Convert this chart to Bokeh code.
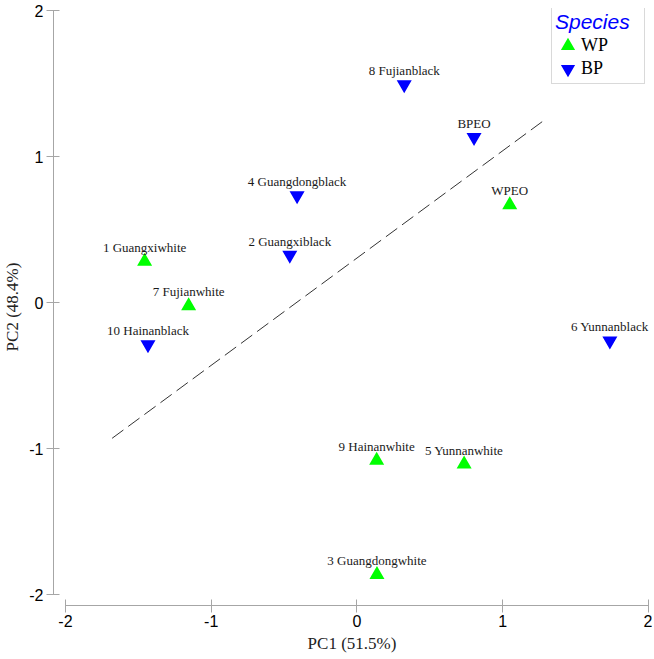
from bokeh.plotting import figure
from bokeh.models import ColumnDataSource, Legend, LegendItem, FixedTicker, Range1d
from bokeh.embed import file_html
from bokeh.resources import INLINE
from bokeh.core.properties import value

# ---- data ----
wp_names = ["1 Guangxiwhite", "3 Guangdongwhite", "5 Yunnanwhite",
            "7 Fujianwhite", "9 Hainanwhite", "WPEO"]
wp_pc1 = [-1.457, 0.137, 0.735, -1.155, 0.135, 1.048]
wp_pc2 = [0.281, -1.864, -1.108, -0.023, -1.082, 0.669]

bp_names = ["2 Guangxiblack", "4 Guangdongblack", "6 Yunnanblack",
            "8 Fujianblack", "10 Hainanblack", "BPEO"]
bp_pc1 = [-0.461, -0.411, 1.735, 0.324, -1.434, 0.803]
bp_pc2 = [0.325, 0.732, -0.263, 1.492, -0.289, 1.132]

line_pc1 = [-1.68, 1.30]
line_pc2 = [-0.93, 1.26]

ticks = [-2, -1, 0, 1, 2]
tick_labels = ["-2", "-1", "0", "1", "2"]
x_title = "PC1 (51.5%)"
y_title = "PC2 (48.4%)"
legend_title = "Species"

# ---- figure ----
p = figure(width=652, height=657, output_backend="svg", toolbar_location=None,
           x_range=Range1d(-2.0822, 2.0137), y_range=Range1d(-2.0753, 2.0137),
           min_border_left=52, min_border_right=2, min_border_top=8,
           min_border_bottom=52)
p.outline_line_color = None
p.grid.visible = False
p.background_fill_color = "white"
p.border_fill_color = "white"

for ax in (p.xaxis[0], p.yaxis[0]):
    ax.ticker = FixedTicker(ticks=ticks)
    ax.major_label_overrides = dict(zip(ticks, tick_labels))
    ax.bounds = (-2, 2)
    ax.axis_line_color = "#a6a6a6"
    ax.major_tick_line_color = "#a6a6a6"
    ax.minor_tick_line_color = None
    ax.major_tick_in = 6
    ax.major_tick_out = 7
    ax.major_label_text_font = "Liberation Sans"
    ax.major_label_text_font_size = "16px"
    ax.major_label_text_color = "black"
    ax.axis_label_text_font = "Liberation Serif"
    ax.axis_label_text_font_size = "17px"
    ax.axis_label_text_font_style = "normal"
    ax.axis_label_text_color = "#222222"

p.xaxis.axis_label = x_title
p.yaxis.axis_label = y_title
p.xaxis.major_label_standoff = 2
p.yaxis.major_label_standoff = 3
p.xaxis.axis_label_standoff = 4
p.yaxis.axis_label_standoff = 4

# dashed separating line
p.line(line_pc1, line_pc2, line_color="#333333", line_width=1, line_dash="14 6")

wp_src = ColumnDataSource(dict(x=wp_pc1, y=wp_pc2, name=wp_names))
bp_src = ColumnDataSource(dict(x=bp_pc1, y=bp_pc2, name=bp_names))

r_wp = p.scatter("x", "y", source=wp_src, marker="triangle", size=10,
                 fill_color="#00ff00", line_color="#00ff00", line_width=2.9,
                 line_join="miter")
r_bp = p.scatter("x", "y", source=bp_src, marker="inverted_triangle", size=10,
                 fill_color="#0000ff", line_color="#0000ff", line_width=2.9,
                 line_join="miter")

for src in (wp_src, bp_src):
    p.text("x", "y", text="name", source=src, y_offset=-14,
           text_align="center", text_baseline="alphabetic",
           text_font=value("Liberation Serif"), text_font_size="13px",
           text_color="#1a1a1a")

legend = Legend(items=[LegendItem(label="WP", renderers=[r_wp]),
                       LegendItem(label="BP", renderers=[r_bp])],
                location=(498, 521))
legend.title = legend_title
legend.title_text_font = "Liberation Sans"
legend.title_text_font_style = "italic"
legend.title_text_font_size = "21px"
legend.title_text_color = "#0000ff"
legend.title_standoff = 0
legend.label_text_font = "Liberation Serif"
legend.label_text_font_size = "18px"
legend.label_text_color = "black"
legend.glyph_width = 25
legend.glyph_height = 23
legend.label_standoff = 1
legend.label_height = 20
legend.label_width = 60
legend.spacing = 0
legend.padding = 3
legend.margin = 0
legend.border_line_color = "#b4b4b4"
legend.border_line_width = 1
legend.background_fill_color = "white"
legend.background_fill_alpha = 1
p.add_layout(legend)

open("out.html", "w").write(file_html(p, INLINE))
